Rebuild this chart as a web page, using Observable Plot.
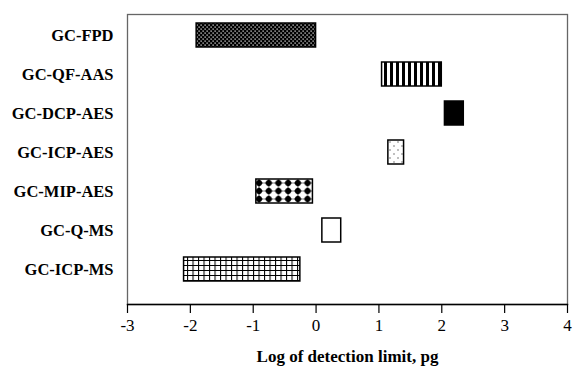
<!DOCTYPE html>
<html>
<head>
<meta charset="utf-8">
<script src="https://cdn.jsdelivr.net/npm/d3@7"></script>
<script src="https://cdn.jsdelivr.net/npm/@observablehq/plot@0.6"></script>
<style>
  html, body { margin: 0; padding: 0; background: #fff; }
</style>
</head>
<body>
<div id="chart"></div>
<script>
// ---- data ----
const techniques = ["GC-FPD", "GC-QF-AAS", "GC-DCP-AES", "GC-ICP-AES", "GC-MIP-AES", "GC-Q-MS", "GC-ICP-MS"];
const lowLimits  = [-1.9, 1.05, 2.05, 1.15, -0.95, 0.1, -2.1];
const highLimits = [0.0, 2.0, 2.35, 1.4, -0.05, 0.4, -0.25];
const xTicks = [-3, -2, -1, 0, 1, 2, 3, 4];
const xTitle = "Log of detection limit, pg";

// ---- styles (pattern per technique) ----
const patternIds = ["pFPD", "pQF", "pDCP", "pICPAES", "pMIP", "pQMS", "pICPMS"];
const fills = patternIds.map(id => id === "pDCP" ? "black" : id === "pQMS" ? "white" : `url(#${id})`);

const rows = techniques.map((t, i) => ({technique: t, lo: lowLimits[i], hi: highLimits[i], fill: fills[i]}));

const chart = Plot.plot({
  width: 575,
  height: 368,
  marginLeft: 127,
  marginRight: 8,
  marginTop: 14,
  marginBottom: 64,
  style: {fontFamily: "'Liberation Serif', 'Times New Roman', serif", fontSize: "16px", color: "black", background: "white"},
  x: {domain: [-3, 4]},
  y: {domain: techniques, range: [7, 296.5], padding: 0.39},
  color: {type: "identity"},
  marks: [
    Plot.frame({stroke: "#666", strokeWidth: 1.3}),
    Plot.frame({anchor: "bottom", stroke: "black", strokeWidth: 1.3}),
    Plot.barX(rows, {x1: "lo", x2: "hi", y: "technique", fill: "fill", stroke: "black", strokeWidth: 1.5}),
    Plot.axisY({tickSize: 0, tickPadding: 14, fontWeight: "bold", fontSize: 16.5, label: null}),
    Plot.axisX({ticks: xTicks, tickSize: 9, tickPadding: 5, tickFormat: d => String(d), fontSize: 17, label: null, strokeWidth: 1.2}),
    Plot.text([xTitle], {frameAnchor: "bottom", dy: 57, text: d => d, fontWeight: "bold", fontSize: 17})
  ]
});

// pattern definitions
const svg = d3.select(chart);
const defs = svg.insert("defs", ":first-child");

// FPD: black with white dots
let p = defs.append("pattern").attr("id", "pFPD").attr("patternUnits", "userSpaceOnUse").attr("width", 4).attr("height", 4);
p.append("rect").attr("width", 4).attr("height", 4).attr("fill", "black");
p.append("rect").attr("x", 0.5).attr("y", 0.5).attr("width", 1.2).attr("height", 1.2).attr("fill", "white");
p.append("rect").attr("x", 2.5).attr("y", 2.5).attr("width", 1.2).attr("height", 1.2).attr("fill", "white");

// QF-AAS: vertical stripes
p = defs.append("pattern").attr("id", "pQF").attr("patternUnits", "userSpaceOnUse").attr("width", 6).attr("height", 10);
p.append("rect").attr("width", 6).attr("height", 10).attr("fill", "white");
p.append("rect").attr("x", 0).attr("width", 3).attr("height", 10).attr("fill", "black");

// ICP-AES: sparse dots
p = defs.append("pattern").attr("id", "pICPAES").attr("patternUnits", "userSpaceOnUse").attr("width", 8).attr("height", 8);
p.append("rect").attr("width", 8).attr("height", 8).attr("fill", "white");
p.append("rect").attr("x", 1.5).attr("y", 1.5).attr("width", 1).attr("height", 1).attr("fill", "black");
p.append("rect").attr("x", 5.5).attr("y", 5.5).attr("width", 1).attr("height", 1).attr("fill", "black");

// MIP-AES: black diamonds on white
p = defs.append("pattern").attr("id", "pMIP").attr("patternUnits", "userSpaceOnUse").attr("width", 9.7).attr("height", 8).attr("x", 2).attr("y", 3);
p.append("rect").attr("width", 9.7).attr("height", 8).attr("fill", "white");
p.append("circle").attr("cx", 4.85).attr("cy", 4).attr("r", 3).attr("fill", "black");
p.append("path").attr("d", "M4.85,-0.2 L7.5,4 L4.85,8.2 L2.2,4 Z").attr("fill", "black");
p.append("path").attr("d", "M0.5,4 L9.2,4").attr("stroke", "black").attr("stroke-width", 1);

// ICP-MS: grid
p = defs.append("pattern").attr("id", "pICPMS").attr("patternUnits", "userSpaceOnUse").attr("width", 5.5).attr("height", 5);
p.append("rect").attr("width", 5.5).attr("height", 5).attr("fill", "white");
p.append("path").attr("d", "M0,0.5 H5.5 M0.5,0 V5").attr("stroke", "black").attr("stroke-width", 1.1);

document.getElementById("chart").appendChild(chart);
</script>
</body>
</html>
